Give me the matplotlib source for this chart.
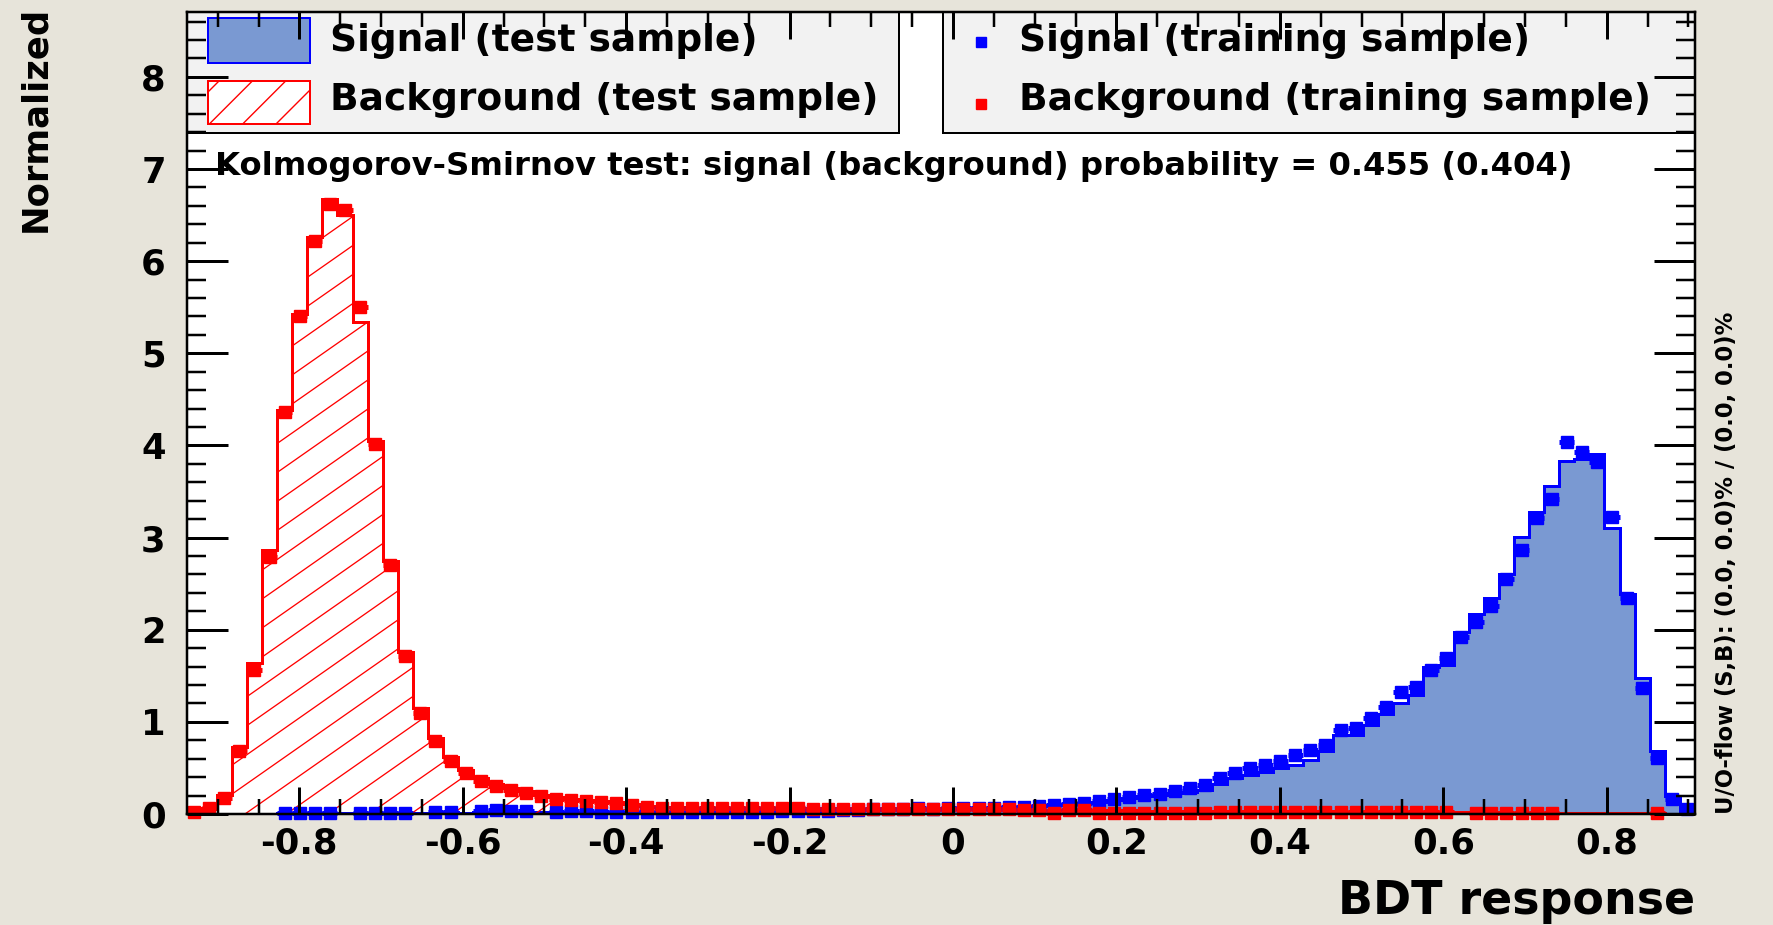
import numpy as np
import matplotlib.pyplot as plt
from matplotlib.patches import Rectangle
from matplotlib.lines import Line2D
from matplotlib.ticker import MultipleLocator

# histogram range of the BDT response (100 bins)
x_min, x_max, n_bins = -0.938, 0.908, 100

# signal, test sample (filled histogram)
sig_test = [
    0, 0, 0, 0, 0, 0, 0.01, 0.01, 0.01, 0.01,
    0.01, 0.01, 0.01, 0.01, 0.01, 0.01, 0.01, 0.02, 0.01, 0.02,
    0.02, 0.02, 0.02, 0.02, 0.02, 0.02, 0.02, 0.02, 0.02, 0.02,
    0.02, 0.02, 0.02, 0.02, 0.02, 0.02, 0.02, 0.02, 0.03, 0.03,
    0.03, 0.03, 0.03, 0.04, 0.04, 0.04, 0.05, 0.05, 0.05, 0.05,
    0.06, 0.06, 0.07, 0.07, 0.08, 0.08, 0.09, 0.10, 0.11, 0.12,
    0.13, 0.15, 0.17, 0.19, 0.21, 0.23, 0.24, 0.26, 0.33, 0.39,
    0.42, 0.46, 0.50, 0.53, 0.59, 0.68, 0.86, 0.86, 0.97, 1.09,
    1.20, 1.29, 1.60, 1.62, 1.98, 2.17, 2.34, 2.60, 3.01, 3.28,
    3.56, 3.83, 3.85, 3.91, 3.10, 2.39, 1.48, 0.68, 0.20, 0.02,
]

# signal, training sample (markers)
sig_train = [
    0, 0, 0, 0, 0, 0, 0.01, 0.01, 0.01, 0.01,
    0, 0.01, 0.01, 0.01, 0.01, 0, 0.02, 0.02, 0, 0.03,
    0.04, 0.03, 0.03, 0, 0.02, 0.03, 0.03, 0.02, 0.02, 0.02,
    0.02, 0.02, 0.02, 0.02, 0.02, 0.02, 0.02, 0.02, 0.02, 0.03,
    0.03, 0.03, 0.03, 0.04, 0.04, 0.05, 0.05, 0.05, 0.06, 0.05,
    0.06, 0.06, 0.07, 0.07, 0.08, 0.08, 0.09, 0.10, 0.11, 0.12,
    0.14, 0.16, 0.18, 0.21, 0.22, 0.25, 0.28, 0.31, 0.39, 0.44,
    0.50, 0.53, 0.57, 0.64, 0.69, 0.75, 0.91, 0.93, 1.04, 1.16,
    1.32, 1.38, 1.56, 1.69, 1.92, 2.08, 2.26, 2.55, 2.87, 3.21,
    3.42, 4.04, 3.93, 3.82, 3.22, 2.34, 1.37, 0.61, 0.16, 0.05,
]

# background, test sample (hatched histogram)
bkg_test = [
    0.03, 0.07, 0.21, 0.73, 1.64, 2.87, 4.39, 5.43, 6.26, 6.67,
    6.50, 5.34, 4.05, 2.75, 1.76, 1.15, 0.83, 0.62, 0.48, 0.39,
    0.33, 0.28, 0.25, 0.21, 0.18, 0.16, 0.15, 0.14, 0.13, 0.11,
    0.09, 0.08, 0.08, 0.07, 0.07, 0.07, 0.07, 0.06, 0.06, 0.06,
    0.06, 0.06, 0.06, 0.06, 0.05, 0.05, 0.05, 0.05, 0.05, 0.05,
    0.05, 0.05, 0.05, 0.05, 0.04, 0.04, 0.04, 0.04, 0.04, 0.04,
    0.04, 0.04, 0.04, 0.03, 0.03, 0.03, 0.03, 0.03, 0.03, 0.03,
    0.03, 0.03, 0.03, 0.03, 0.03, 0.03, 0.02, 0.02, 0.02, 0.02,
    0.02, 0.02, 0.02, 0.02, 0.02, 0.02, 0.02, 0.01, 0.01, 0.01,
    0.01, 0.01, 0.01, 0.01, 0.01, 0.01, 0.01, 0.01, 0, 0,
]

# background, training sample (markers)
bkg_train = [
    0.02, 0.06, 0.17, 0.68, 1.56, 2.79, 4.36, 5.40, 6.22, 6.62,
    6.55, 5.50, 4.02, 2.70, 1.71, 1.10, 0.79, 0.57, 0.45, 0.36,
    0.30, 0.26, 0.23, 0.20, 0.16, 0.15, 0.14, 0.13, 0.12, 0.10,
    0.08, 0.07, 0.07, 0.07, 0.06, 0.06, 0.06, 0.06, 0.06, 0.06,
    0.06, 0.05, 0.05, 0.05, 0.05, 0.05, 0.05, 0.05, 0.05, 0.05,
    0.05, 0.05, 0.05, 0.05, 0.05, 0.04, 0.04, 0.01, 0.04, 0.04,
    0.01, 0.01, 0.01, 0.01, 0.01, 0.01, 0.01, 0.01, 0.02, 0.02,
    0.02, 0.02, 0.02, 0.02, 0.02, 0.02, 0.02, 0.02, 0.02, 0.02,
    0.02, 0.02, 0.02, 0.02, 0, 0.01, 0.01, 0.01, 0.01, 0.01,
    0.01, 0, 0, 0, 0, 0, 0, 0.01, 0, 0,
]

x_ticks = [-0.8, -0.6, -0.4, -0.2, 0, 0.2, 0.4, 0.6, 0.8]
x_tick_labels = ['-0.8', '-0.6', '-0.4', '-0.2', '0', '0.2', '0.4', '0.6', '0.8']
y_ticks = [0, 1, 2, 3, 4, 5, 6, 7, 8]

ks_text = 'Kolmogorov-Smirnov test: signal (background) probability = 0.455 (0.404)'
flow_text = 'U/O-flow (S,B): (0.0, 0.0)% / (0.0, 0.0)%'

# colours
bg_col = '#e7e4da'
sig_fill = '#7a99d2'
sig_col = '#0000ff'
bkg_col = '#ff0000'
leg_col = '#f2f2f2'

W, H = 1773, 925
PT = 0.72  # points per pixel at dpi 100


def fx(px):
    return px / W


def fy(py):
    return 1 - py / H


def fig_rect(x0, y0, x1, y1, **kw):
    # rectangle given in picture pixels (top-left origin), drawn on the figure
    r = Rectangle((fx(x0), fy(y1)), (x1 - x0) / W, (y1 - y0) / H,
                  transform=fig.transFigure, **kw)
    fig.add_artist(r)
    return r


plt.rcParams['font.family'] = ['DejaVu Sans']
plt.rcParams['font.weight'] = 'bold'
plt.rcParams['axes.unicode_minus'] = False

fig = plt.figure(figsize=(W / 100, H / 100), dpi=100, facecolor=bg_col)
ax_l, ax_r, ax_t, ax_b = 186.6, 1695, 12.4, 814
ax = fig.add_axes([fx(ax_l), fy(ax_b), (ax_r - ax_l) / W, (ax_b - ax_t) / H])
ax.set_facecolor('none')  # white plot area and legend boxes sit below the axes

# plot area and legend boxes, under the axes so the ticks show over them
fig_rect(ax_l, ax_t, ax_r, ax_b, facecolor='white', edgecolor='none', zorder=-3)
fig_rect(ax_l, ax_t, 899, 133, facecolor=leg_col, edgecolor='black', lw=2 * PT, zorder=-2)
fig_rect(943, ax_t, ax_r, 133, facecolor=leg_col, edgecolor='black', lw=2 * PT, zorder=-2)
fig_rect(208, 18, 310, 63, facecolor=sig_fill, edgecolor=sig_col, lw=2 * PT, zorder=-1)
fig_rect(208, 81, 310, 124, facecolor='white', edgecolor=bkg_col, hatch='/', lw=2 * PT, zorder=-1)
fig.add_artist(Line2D([fx(981)], [fy(42)], marker='s', ms=6.5, color=sig_col,
                      transform=fig.transFigure, zorder=-1))
fig.add_artist(Line2D([fx(981)], [fy(104)], marker='s', ms=6.5, color=bkg_col,
                      transform=fig.transFigure, zorder=-1))

edges = np.linspace(x_min, x_max, n_bins + 1)
centers = 0.5 * (edges[:-1] + edges[1:])
half = 0.5 * (edges[1] - edges[0])

sig_test = np.array(sig_test)
sig_train = np.array(sig_train)
bkg_test = np.array(bkg_test)
bkg_train = np.array(bkg_train)

# signal test: filled histogram with blue outline
ax.stairs(sig_test, edges, fill=True, facecolor=sig_fill, edgecolor='none', zorder=1)
ax.stairs(sig_test, edges, baseline=0, color=sig_col, lw=3 * PT, zorder=1.2)

# background test: hatched histogram (hatch lines clipped to the histogram shape)
bkg_shape = ax.stairs(bkg_test, edges, fill=True, facecolor='none', edgecolor='none', zorder=1.3)
slope = 0.7 * (ax_r - ax_l) / (ax_b - ax_t)
step = 29 / (ax_b - ax_t)
for c in np.arange(-slope, 1.0, step):
    ln, = ax.plot([0, 1], [c, c + slope], transform=ax.transAxes, color=bkg_col,
                  lw=1.3 * PT, zorder=1.4)
    ln.set_clip_path(bkg_shape)
ax.stairs(bkg_test, edges, baseline=0, color=bkg_col, lw=3 * PT, zorder=1.5)

# training samples: markers with horizontal bin-width bars
for vals, col in [(sig_train, sig_col), (bkg_train, bkg_col)]:
    m = vals > 0
    ax.errorbar(centers[m], vals[m], xerr=half, fmt='s', ms=12 * PT, color=col,
                mec=col, mfc=col, elinewidth=5 * PT, capsize=0, clip_on=False, zorder=1.8)

ax.set_xlim(x_min, x_max)
ax.set_ylim(0, 8.7)
ax.set_xticks(x_ticks, x_tick_labels)
ax.set_yticks(y_ticks)
ax.xaxis.set_minor_locator(MultipleLocator(0.05))
ax.yaxis.set_minor_locator(MultipleLocator(0.2))
ax.tick_params(axis='x', which='major', direction='in', length=27 * PT, width=3 * PT,
               top=True, labelsize=25.5, pad=9)
ax.tick_params(axis='x', which='minor', direction='in', length=15 * PT, width=2.5 * PT, top=True)
ax.tick_params(axis='y', which='major', direction='in', length=41 * PT, width=3 * PT,
               right=True, labelsize=25.5, pad=15)
ax.tick_params(axis='y', which='minor', direction='in', length=19 * PT, width=2.5 * PT, right=True)
ax.xaxis.set_zorder(4)
ax.yaxis.set_zorder(4)
for sp in ax.spines.values():
    sp.set_linewidth(2.5 * PT)
    sp.set_zorder(4)

leg_fs = 27
fig.text(fx(330), fy(51), 'Signal (test sample)', fontsize=leg_fs, va='baseline')
fig.text(fx(330), fy(110), 'Background (test sample)', fontsize=leg_fs, va='baseline')
fig.text(fx(1019), fy(51), 'Signal (training sample)', fontsize=leg_fs, va='baseline')
fig.text(fx(1019), fy(110), 'Background (training sample)', fontsize=leg_fs, va='baseline')

fig.text(fx(215), fy(175), ks_text, fontsize=23.2, va='baseline')

fig.text(fx(35), fy(6), 'Normalized', rotation=90, ha='center', va='top', fontsize=25.5)
fig.text(fx(1695), fy(914.5), 'BDT response', ha='right', va='baseline', fontsize=33)
fig.text(fx(1727), fy(814), flow_text, rotation=90, ha='center', va='bottom', fontsize=16.3)

fig.savefig('out.png', dpi=100, facecolor=bg_col)
